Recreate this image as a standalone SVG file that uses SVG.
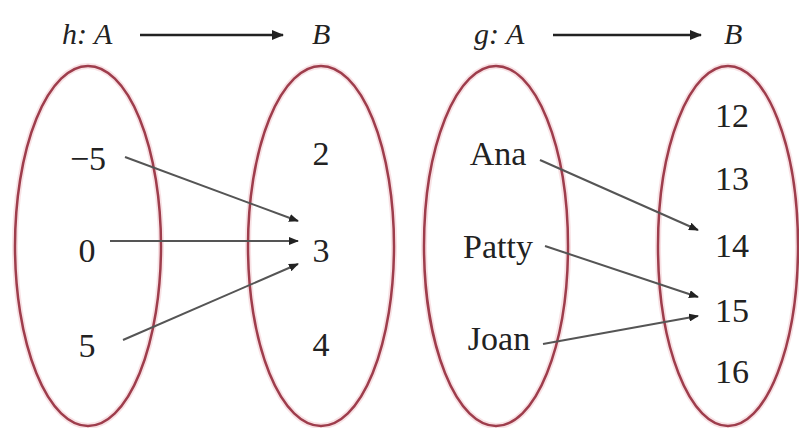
<svg xmlns="http://www.w3.org/2000/svg" width="799" height="428" viewBox="0 0 799 428">
<style>
.set{fill:none;stroke:#9e3d4c;stroke-width:2.5}
.halo{fill:none;stroke:#f2c4ca;stroke-width:6;opacity:0.5}
.t{font-family:'Liberation Serif','DejaVu Serif','Noto Serif',Tinos,Times,'Times New Roman',Georgia,serif;font-size:34px;fill:#222;text-anchor:middle}
.h{font-family:'Liberation Serif','DejaVu Serif','Noto Serif',Tinos,Times,'Times New Roman',Georgia,serif;font-size:30px;font-style:italic;fill:#222}
.map{stroke:#555;stroke-width:2;fill:none;marker-end:url(#ah)}
.top{stroke:#222;stroke-width:2.5;fill:none;marker-end:url(#ah2)}
</style>
<defs>
<marker id="ah" markerWidth="10" markerHeight="8" refX="9" refY="4" orient="auto" markerUnits="userSpaceOnUse">
<path d="M0,0 L10,4 L0,8 z" fill="#222"/>
</marker>
<marker id="ah2" markerWidth="12" markerHeight="10" refX="11" refY="5" orient="auto" markerUnits="userSpaceOnUse">
<path d="M0,0 L12,5 L0,10 z" fill="#222"/>
</marker>
</defs>
<rect width="799" height="428" fill="#fff"/>
<g id="title-h">
<text class="h" x="62" y="44">h: A</text>
<text class="h" x="312" y="44">B</text>
</g>
<g id="title-g">
<text class="h" x="474" y="44">g: A</text>
<text class="h" x="724" y="44">B</text>
</g>
<g id="set-hA">
<ellipse class="halo" cx="88" cy="246" rx="73" ry="180"/>
<ellipse class="set" cx="88" cy="246" rx="73" ry="180"/>
<text class="t" x="88" y="170">−5</text>
<text class="t" x="87" y="262">0</text>
<text class="t" x="87" y="357">5</text>
</g>
<g id="set-hB">
<ellipse class="halo" cx="321" cy="246" rx="73" ry="180"/>
<ellipse class="set" cx="321" cy="246" rx="73" ry="180"/>
<text class="t" x="321" y="165">2</text>
<text class="t" x="321" y="262">3</text>
<text class="t" x="321" y="356">4</text>
</g>
<g id="set-gA">
<ellipse class="halo" cx="496" cy="246" rx="72" ry="180"/>
<ellipse class="set" cx="496" cy="246" rx="72" ry="180"/>
<text class="t" x="498" y="165">Ana</text>
<text class="t" x="498" y="258">Patty</text>
<text class="t" x="499" y="350">Joan</text>
</g>
<g id="set-gB">
<ellipse class="halo" cx="728" cy="246" rx="70" ry="180"/>
<ellipse class="set" cx="728" cy="246" rx="70" ry="180"/>
<text class="t" x="732" y="127">12</text>
<text class="t" x="732" y="190">13</text>
<text class="t" x="732" y="257">14</text>
<text class="t" x="732" y="322">15</text>
<text class="t" x="732" y="383">16</text>
</g>
<g id="connectors">
<line class="top" x1="140" y1="35" x2="283" y2="35"/>
<line class="top" x1="553" y1="35" x2="701" y2="35"/>
<line class="map" x1="125" y1="157" x2="298" y2="221"/>
<line class="map" x1="110" y1="241" x2="298" y2="241"/>
<line class="map" x1="123" y1="340" x2="298" y2="264"/>
<line class="map" x1="540" y1="160" x2="698" y2="230"/>
<line class="map" x1="545" y1="246" x2="698" y2="297"/>
<line class="map" x1="543" y1="344" x2="698" y2="316"/>
</g>
</svg>
